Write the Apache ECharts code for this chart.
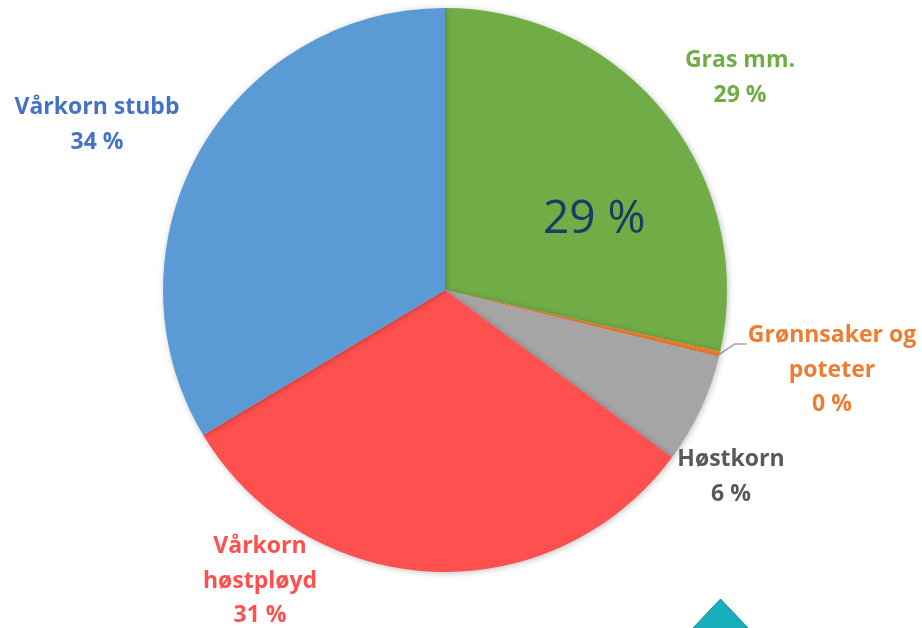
<!DOCTYPE html>
<html><head><meta charset="utf-8">
<script src="https://cdn.jsdelivr.net/npm/echarts@6/dist/echarts.min.js"></script>
<style>html,body{margin:0;padding:0;background:#fff}#c{width:922px;height:628px}</style>
</head><body><div id="c"></div>
<script>
var categories = ['Gras mm.', 'Grønnsaker og\npoteter', 'Høstkorn', 'Vårkorn\nhøstpløyd', 'Vårkorn stubb'];
var values = [28.5, 0.3, 6.3, 31.3, 33.6];
var sliceColors = ['#70AD47', '#ED7D31', '#A5A5A5', '#FF5050', '#5B9BD5'];
var labelColors = ['#70AD47', '#ED7D31', '#595959', '#FF5050', '#4472C4'];
var labelPos = [[740, 78], [832, 370], [731, 477], [260, 581], [97, 125]];

var total = values.reduce(function(a,b){return a+b;},0);
var chart = echarts.init(document.getElementById('c'));
chart.setOption({
  animation: false,
  series: [{
    type: 'pie',
    center: [445, 290],
    radius: [0, 282],
    startAngle: 90,
    clockwise: true,
    avoidLabelOverlap: false,
    itemStyle: { shadowBlur: 6, shadowColor: 'rgba(0,0,0,0.25)', shadowOffsetX: 1, shadowOffsetY: 1 },
    label: {
      show: true,
      position: 'outside',
      fontFamily: 'Open Sans',
      fontWeight: 'bold',
      fontSize: 23,
      lineHeight: 34.5,
      align: 'center',
      formatter: function(p){ return p.name + '\n' + Math.round(p.percent) + ' %'; }
    },
    labelLine: { show: false },
    labelLayout: function(p){
      var pos = labelPos[p.dataIndex];
      var r = { x: pos[0], y: pos[1], align: 'center', verticalAlign: 'middle' };
      if (p.dataIndex === 1 && p.labelLinePoints) {
        var a = p.labelLinePoints[0];
        r.labelLinePoints = [a, [a[0] + 15, a[1] - 10], [a[0] + 27, a[1] - 10]];
      }
      return r;
    },
    data: categories.map(function(c, i){
      var d = { name: c, value: values[i], itemStyle: { color: sliceColors[i] }, label: { color: labelColors[i] } };
      if (i === 1) d.labelLine = { show: true, length: 12, length2: 10, lineStyle: { color: '#A6A6A6', width: 1.5 } };
      return d;
    })
  }],
  graphic: [
    { type: 'text', z: 100, left: 543, top: 197, style: { text: Math.round(values[0] / total * 100 + 1e-9) + ' %', font: '46px "Open Sans"', fill: '#1F3864' } },
    { type: 'polygon', z: 100, shape: { points: [[692, 629], [720.5, 599], [749, 629]] }, style: { fill: '#17AEB9', stroke: '#138A94', lineWidth: 1 } }
  ]
});
</script></body></html>
